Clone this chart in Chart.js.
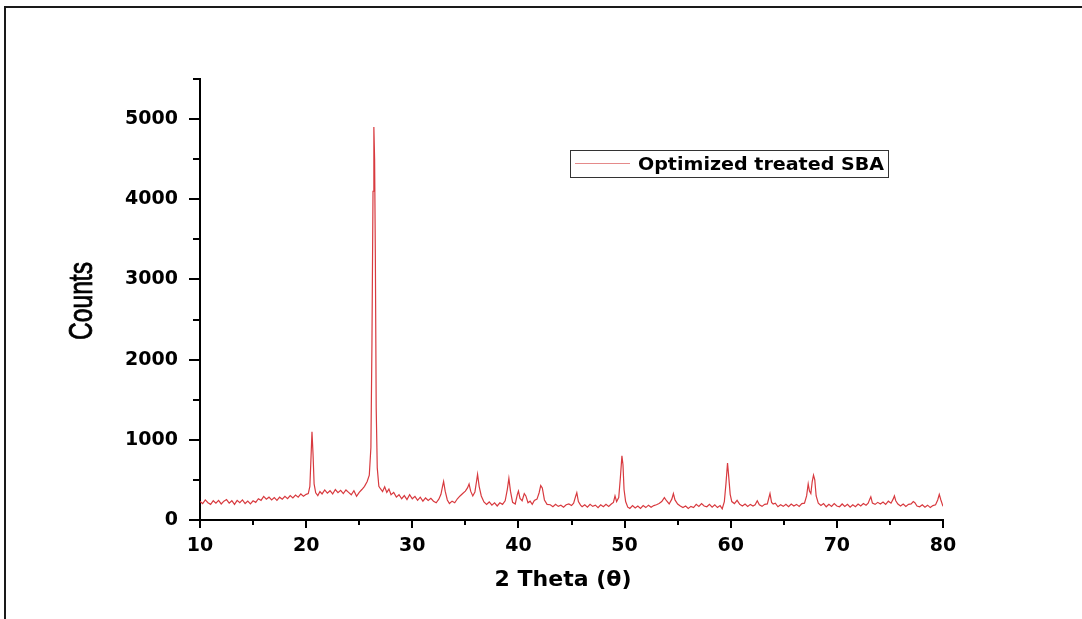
<!DOCTYPE html>
<html>
<head>
<meta charset="utf-8">
<script src="https://cdn.jsdelivr.net/npm/chart.js@4.4.0/dist/chart.umd.min.js"></script>
<style>
  body { margin: 0; background: #fff; }
  #wrap { position: relative; width: 1082px; height: 619px; overflow: hidden; }
  #frame { position: absolute; left: 4px; top: 6px; right: -4px; bottom: -4px;
           border-left: 2px solid #1a1a1a; border-top: 2px solid #1a1a1a; }
  #plot-data { position: absolute; left: 0; top: 0; }
</style>
</head>
<body>
<div id="wrap">
  <div id="frame"></div>
  <canvas id="plot-data" width="1082" height="619"></canvas>
</div>
<script>
// XRD pattern
var twoTheta = [
  10.0, 10.25, 10.5, 10.75, 11.0, 11.25, 11.5, 11.75, 12.0, 12.25, 12.5, 12.75, 13.0, 13.25, 13.5, 13.75,
  14.0, 14.25, 14.5, 14.75, 15.0, 15.25, 15.5, 15.75, 16.0, 16.25, 16.5, 16.75, 17.0, 17.25, 17.5, 17.75,
  18.0, 18.25, 18.5, 18.75, 19.0, 19.25, 19.5, 19.75, 20.0, 20.2, 20.35, 20.45, 20.55, 20.65, 20.75, 20.9,
  21.1, 21.3, 21.5, 21.75, 22.0, 22.25, 22.5, 22.75, 23.0, 23.25, 23.5, 23.75, 24.0, 24.25, 24.5, 24.75,
  25.0, 25.25, 25.5, 25.75, 25.95, 26.1, 26.2, 26.3, 26.38, 26.45, 26.52, 26.6, 26.7, 26.85, 27.0, 27.2,
  27.4, 27.6, 27.8, 28.0, 28.25, 28.5, 28.75, 29.0, 29.25, 29.5, 29.75, 30.0, 30.25, 30.5, 30.75, 31.0,
  31.25, 31.5, 31.75, 32.0, 32.25, 32.5, 32.7, 32.85, 32.95, 33.1, 33.3, 33.5, 33.75, 34.0, 34.25, 34.5,
  34.75, 35.0, 35.2, 35.35, 35.5, 35.7, 35.9, 36.05, 36.15, 36.3, 36.5, 36.75, 37.0, 37.25, 37.5, 37.75,
  38.0, 38.25, 38.5, 38.75, 38.95, 39.1, 39.25, 39.45, 39.7, 39.9, 40.0, 40.15, 40.35, 40.55, 40.7, 40.9,
  41.1, 41.3, 41.5, 41.75, 41.95, 42.1, 42.25, 42.45, 42.7, 43.0, 43.25, 43.5, 43.75, 44.0, 44.25, 44.5,
  44.75, 45.0, 45.2, 45.4, 45.5, 45.65, 45.85, 46.0, 46.25, 46.5, 46.75, 47.0, 47.25, 47.5, 47.75, 48.0,
  48.25, 48.5, 48.75, 48.95, 49.1, 49.25, 49.45, 49.6, 49.75, 49.85, 49.95, 50.1, 50.3, 50.5, 50.75, 51.0,
  51.25, 51.5, 51.75, 52.0, 52.25, 52.5, 52.75, 53.0, 53.25, 53.5, 53.75, 53.95, 54.2, 54.45, 54.6, 54.75,
  55.0, 55.25, 55.5, 55.75, 56.0, 56.25, 56.5, 56.75, 57.0, 57.25, 57.5, 57.75, 58.0, 58.25, 58.5, 58.75,
  59.0, 59.2, 59.4, 59.55, 59.7, 59.8, 59.95, 60.1, 60.35, 60.6, 60.85, 61.1, 61.35, 61.6, 61.85, 62.1,
  62.3, 62.5, 62.7, 62.95, 63.2, 63.45, 63.6, 63.7, 63.85, 64.0, 64.2, 64.45, 64.7, 64.95, 65.2, 65.45,
  65.7, 65.95, 66.2, 66.45, 66.7, 66.95, 67.15, 67.3, 67.42, 67.55, 67.68, 67.8, 67.92, 68.05, 68.25, 68.5,
  68.75, 69.0, 69.25, 69.5, 69.75, 70.0, 70.25, 70.5, 70.75, 71.0, 71.25, 71.5, 71.75, 72.0, 72.25, 72.5,
  72.75, 72.95, 73.1, 73.2, 73.35, 73.6, 73.85, 74.1, 74.35, 74.6, 74.85, 75.1, 75.3, 75.42, 75.55, 75.75,
  76.0, 76.25, 76.5, 76.75, 77.0, 77.2, 77.35, 77.55, 77.8, 78.05, 78.3, 78.55, 78.8, 79.05, 79.3, 79.5,
  79.65, 79.8, 80.0
];
var counts = [
  230, 205, 250, 215, 195, 240, 210, 245, 200, 235, 255, 210, 240, 195, 245, 215,
  250, 205, 235, 200, 240, 220, 265, 245, 295, 260, 285, 250, 280, 245, 285, 260,
  295, 265, 305, 275, 310, 285, 325, 295, 320, 330, 420, 750, 1100, 820, 450, 340,
  305, 355, 325, 375, 335, 365, 325, 380, 340, 370, 330, 375, 345, 315, 365, 295,
  345, 380, 420, 480, 560, 900, 2200, 4100, 4900, 4500, 3300, 1400, 650, 420, 390, 355,
  415, 345, 385, 315, 345, 285, 315, 265, 305, 255, 315, 265, 295, 245, 285, 235,
  275, 245, 270, 235, 215, 260, 320, 420, 480, 360, 250, 205, 235, 215, 265, 300,
  330, 360, 400, 450, 360, 300, 350, 480, 570, 420, 300, 225, 195, 225, 185, 215,
  175, 215, 195, 240, 380, 520, 360, 220, 200, 320, 360, 270, 240, 330, 300, 215,
  235, 195, 245, 260, 340, 430, 400, 250, 195, 190, 165, 195, 170, 185, 160, 190,
  200, 180, 210, 300, 340, 230, 185, 165, 190, 160, 195, 170, 185, 155, 190, 165,
  195, 170, 200, 220, 300, 230, 280, 520, 800, 690, 380, 230, 160, 145, 180, 150,
  175, 145, 180, 155, 185, 160, 180, 190, 205, 230, 280, 240, 200, 260, 330, 250,
  200, 175, 155, 175, 145, 170, 155, 195, 170, 205, 175, 165, 195, 160, 190, 155,
  180, 140, 230, 450, 710, 560, 320, 230, 205, 245, 195, 175, 200, 170, 195, 175,
  190, 240, 190, 170, 195, 200, 280, 330, 220, 200, 210, 165, 190, 170, 195, 165,
  200, 175, 195, 170, 205, 210, 300, 450, 360, 330, 480, 560, 500, 300, 210, 180,
  205, 165, 195, 170, 205, 175, 165, 200, 170, 195, 160, 190, 165, 200, 175, 205,
  185, 210, 260, 290, 210, 195, 220, 200, 225, 195, 235, 210, 260, 300, 240, 200,
  175, 200, 170, 195, 200, 230, 215, 175, 165, 190, 160, 185, 155, 180, 190, 250,
  320, 250, 170
];
var seriesName = 'Optimized treated SBA';
var yTitle = 'Counts';
var xTitle = '2 Theta (θ)';
var xTickLabels = [10, 20, 30, 40, 50, 60, 70, 80];
var xMinorTicks = [15, 25, 35, 45, 55, 65, 75];
var yTickLabels = [0, 1000, 2000, 3000, 4000, 5000];
var yMinorTicks = [500, 1500, 2500, 3500, 4500, 5500];

var points = [];
for (let i = 0; i < twoTheta.length; i++) {
    points.push({ x: twoTheta[i], y: counts[i] });
}

// tick marks drawn by hand: major and minor have different lengths
var tickMarks = {
    id: 'tickMarks',
    afterDraw(chart) {
        const ctx = chart.ctx;
        const xs = chart.scales.x, ys = chart.scales.y;
        const area = chart.chartArea;
        ctx.save();
        ctx.strokeStyle = '#000';
        ctx.lineWidth = 2;
        ctx.beginPath();
        xTickLabels.forEach(v => {
            let px = Math.round(xs.getPixelForValue(v));
            ctx.moveTo(px, area.bottom); ctx.lineTo(px, area.bottom + 8);
        });
        xMinorTicks.forEach(v => {
            let px = Math.round(xs.getPixelForValue(v));
            ctx.moveTo(px, area.bottom); ctx.lineTo(px, area.bottom + 5);
        });
        yTickLabels.forEach(v => {
            let py = Math.round(ys.getPixelForValue(v));
            ctx.moveTo(area.left, py); ctx.lineTo(area.left - 11, py);
        });
        yMinorTicks.forEach(v => {
            let py = Math.round(ys.getPixelForValue(v));
            ctx.moveTo(area.left, py); ctx.lineTo(area.left - 7, py);
        });
        ctx.stroke();
        ctx.restore();
    }
};

// boxed legend inside the plot + the stretched axis titles
var boxLegend = {
    id: 'boxLegend',
    afterDraw(chart) {
        const ctx = chart.ctx;
        ctx.save();
        ctx.strokeStyle = '#333';
        ctx.lineWidth = 1;
        ctx.strokeRect(570.5, 150.5, 318, 27);
        ctx.strokeStyle = '#e58a8a';
        ctx.beginPath();
        ctx.moveTo(575, 163.5); ctx.lineTo(630, 163.5);
        ctx.stroke();
        ctx.font = 'bold 18px "DejaVu Sans", sans-serif';
        ctx.fillStyle = '#000';
        ctx.textBaseline = 'middle';
        let w = ctx.measureText(seriesName).width;
        ctx.translate(638, 165);
        ctx.scale(246 / w, 1);
        ctx.fillText(seriesName, 0, 0);
        ctx.restore();

        // y title: the original picture is stretched sideways
        ctx.save();
        ctx.font = '24px "Liberation Sans", Arial, sans-serif';
        ctx.fillStyle = '#000';
        ctx.textAlign = 'center';
        ctx.textBaseline = 'middle';
        let tw = ctx.measureText(yTitle).width;
        ctx.translate(83, 301);
        ctx.rotate(-Math.PI / 2);
        ctx.scale(78 / tw, 1.35);
        ctx.fillText(yTitle, 0, 0);
        ctx.lineWidth = 0.6;
        ctx.strokeStyle = '#000';
        ctx.strokeText(yTitle, 0, 0);
        ctx.restore();

        // x title
        ctx.save();
        ctx.font = 'bold 22px "DejaVu Sans", sans-serif';
        ctx.fillStyle = '#000';
        ctx.textAlign = 'center';
        ctx.textBaseline = 'middle';
        let xw = ctx.measureText(xTitle).width;
        ctx.translate(563, 580);
        ctx.scale(137 / xw, 1);
        ctx.fillText(xTitle, 0, 0);
        ctx.restore();
    }
};

var ctx = document.getElementById('plot-data').getContext('2d');
var graph_data = new Chart(ctx, {
    type: 'line',
    data: {
        datasets: [{
            label: seriesName,
            borderColor: '#d83a3f',
            borderWidth: 1.2,
            pointRadius: 0,
            tension: 0,
            data: points
        }]
    },
    options: {
        responsive: false,
        animation: false,
        layout: {
            padding: { left: 0, top: 79, right: 139, bottom: 0 }
        },
        plugins: {
            legend: { display: false },
            tooltip: { enabled: false }
        },
        scales: {
            x: {
                type: 'linear',
                min: 10,
                max: 80,
                afterBuildTicks: function(scale) {
                    scale.ticks = xTickLabels.map(v => ({ value: v }));
                },
                afterFit: function(scale) { scale.height = 99; },
                grid: { display: true, drawOnChartArea: false, drawTicks: false },
                border: { display: true, color: '#000', width: 2 },
                ticks: {
                    color: '#000',
                    padding: 15,
                    maxRotation: 0,
                    callback: function(value) { return String(value); },
                    font: { family: 'DejaVu Sans', size: 19, weight: 'bold' }
                },
                title: { display: false }
            },
            y: {
                min: 0,
                max: 5500,
                afterBuildTicks: function(scale) {
                    scale.ticks = yTickLabels.map(v => ({ value: v }));
                },
                afterFit: function(scale) { scale.width = 200; },
                grid: { display: true, drawOnChartArea: false, drawTicks: false },
                border: { display: true, color: '#000', width: 2 },
                ticks: {
                    color: '#000',
                    padding: 22,
                    callback: function(value) { return String(value); },
                    font: { family: 'DejaVu Sans', size: 19, weight: 'bold' }
                },
                title: { display: false }
            }
        }
    },
    plugins: [tickMarks, boxLegend]
});
</script>
</body>
</html>
